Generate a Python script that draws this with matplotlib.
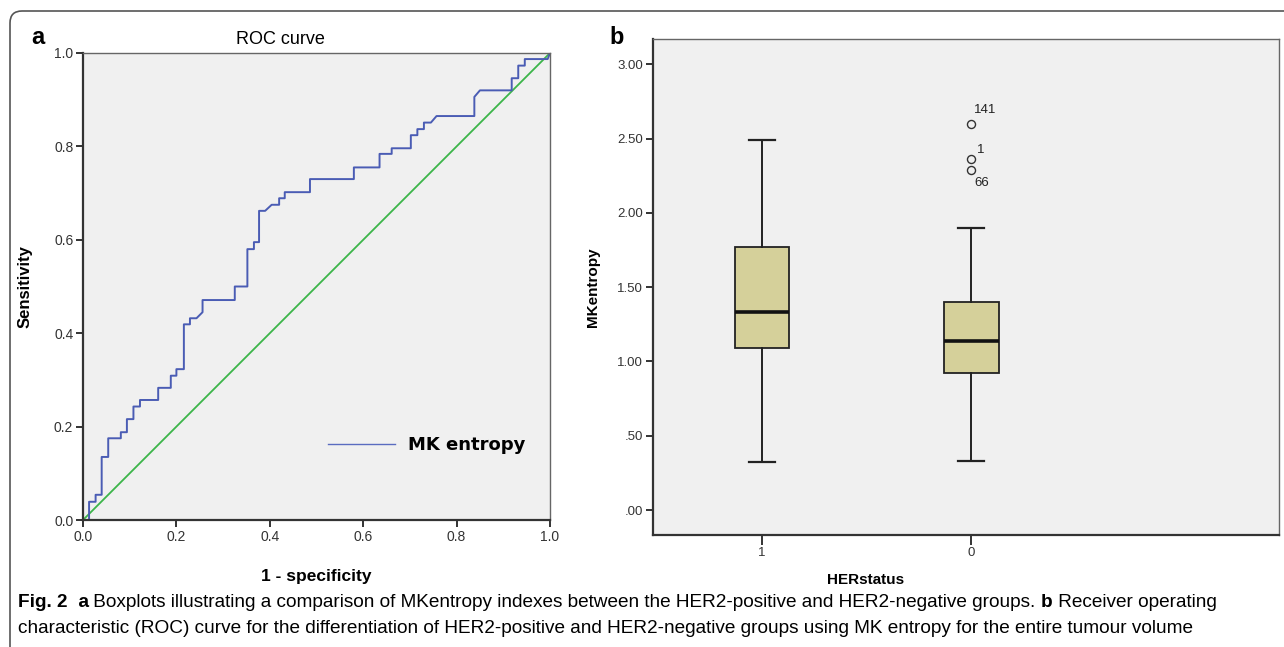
import matplotlib
matplotlib.use('Agg')
import matplotlib.pyplot as plt
from matplotlib.patches import FancyBboxPatch

# ROC curve corners: 1 - specificity / sensitivity
roc_fpr = [0.0, 0.013, 0.013, 0.027, 0.027, 0.040, 0.040, 0.054, 0.054, 0.081, 0.081,
           0.094, 0.094, 0.108, 0.108, 0.122, 0.122, 0.161, 0.161, 0.188, 0.188, 0.200,
           0.200, 0.216, 0.216, 0.229, 0.229, 0.243, 0.256, 0.256, 0.325, 0.325, 0.352,
           0.352, 0.366, 0.366, 0.377, 0.377, 0.390, 0.404, 0.420, 0.420, 0.432, 0.432,
           0.486, 0.486, 0.580, 0.580, 0.635, 0.635, 0.661, 0.661, 0.702, 0.702, 0.716,
           0.716, 0.730, 0.730, 0.745, 0.757, 0.838, 0.838, 0.850, 0.918, 0.918, 0.932,
           0.932, 0.946, 0.946, 0.995, 1.0]
roc_tpr = [0.0, 0.0, 0.039, 0.039, 0.054, 0.054, 0.135, 0.135, 0.175, 0.175, 0.188,
           0.188, 0.216, 0.216, 0.243, 0.243, 0.257, 0.257, 0.283, 0.283, 0.309, 0.309,
           0.323, 0.323, 0.419, 0.419, 0.432, 0.432, 0.445, 0.471, 0.471, 0.500, 0.500,
           0.580, 0.580, 0.595, 0.595, 0.662, 0.662, 0.675, 0.675, 0.689, 0.689, 0.702,
           0.702, 0.730, 0.730, 0.755, 0.755, 0.784, 0.784, 0.796, 0.796, 0.824, 0.824,
           0.837, 0.837, 0.851, 0.851, 0.865, 0.865, 0.906, 0.920, 0.920, 0.946, 0.946,
           0.973, 0.973, 0.987, 0.987, 1.0]
chance = [0.0, 1.0]
roc_ticks = [0.0, 0.2, 0.4, 0.6, 0.8, 1.0]

# boxplot summary for MKentropy by HER status
groups = ['1', '0']
whisker_low = [0.32, 0.33]
q1 = [1.09, 0.92]
medians = [1.33, 1.14]
q3 = [1.77, 1.40]
whisker_high = [2.49, 1.90]
outlier_values = [[], [2.60, 2.36, 2.29]]
outlier_ids = [[], ['141', '1', '66']]
box_ticks = [0.0, 0.5, 1.0, 1.5, 2.0, 2.5, 3.0]

plt.rcParams['font.family'] = ['Liberation Sans', 'DejaVu Sans']

fig = plt.figure(figsize=(12.84, 6.47), dpi=100)

# rounded frame around the figure (cut off at right and bottom)
frame = FancyBboxPatch((0.10, -0.5), 13.5, 6.86, boxstyle='round,pad=0,rounding_size=0.12',
                       transform=fig.dpi_scale_trans, facecolor='none', edgecolor='#555555',
                       linewidth=1.2)
fig.add_artist(frame)

face = '#f0f0f0'

def style_spines(ax, size):
    for side in ['left', 'bottom']:
        ax.spines[side].set_color('#333333')
        ax.spines[side].set_linewidth(1.6)
    for side in ['top', 'right']:
        ax.spines[side].set_color('#666666')
        ax.spines[side].set_linewidth(1.0)
    ax.tick_params(direction='out', length=5, width=1.4, color='#333333',
                   labelsize=size, labelcolor='#333333', pad=2)

# ---- panel a: ROC curve ----
ax1 = fig.add_axes([83 / 1284, 1 - 520 / 647, 467 / 1284, 467 / 647])
ax1.set_facecolor(face)
ax1.plot(chance, chance, color='#3cb54a', linewidth=1.3)
ax1.plot(roc_fpr, roc_tpr, color='#4a5cb4', linewidth=1.4, label='MK entropy')
ax1.set_xlim(0, 1)
ax1.set_ylim(0, 1)
ax1.set_xticks(roc_ticks)
ax1.set_yticks(roc_ticks)
ax1.set_xticklabels([f'{t:.1f}' for t in roc_ticks])
ax1.set_yticklabels([f'{t:.1f}' for t in roc_ticks])
style_spines(ax1, 10)
ax1.set_xlabel('1 - specificity', fontsize=12.5, fontweight='bold')
ax1.set_ylabel('Sensitivity', fontsize=12, fontweight='bold')
ax1.xaxis.set_label_coords(0.5, -0.105)
ax1.yaxis.set_label_coords(-0.107, 0.5)
ax1.text(0.422, 1.028, 'ROC curve', transform=ax1.transAxes, ha='center', va='center',
         fontsize=13)
handles, labels = ax1.get_legend_handles_labels()
leg = ax1.legend(handles[:1], labels[:1], loc='center left', bbox_to_anchor=(0.525, 0.16),
                 frameon=False, handlelength=3.7, handletextpad=0.7, borderpad=0,
                 borderaxespad=0, prop={'family': 'DejaVu Sans', 'weight': 'bold', 'size': 13})
for line in leg.get_lines():
    line.set_linewidth(1.0)
    line.set_color('#5a6cc0')

# ---- panel b: boxplot ----
ax2 = fig.add_axes([653 / 1284, 1 - 535 / 647, 626 / 1284, 496 / 647])
ax2.set_facecolor(face)
stats = []
for i, g in enumerate(groups):
    stats.append({'label': g, 'whislo': whisker_low[i], 'q1': q1[i], 'med': medians[i],
                  'q3': q3[i], 'whishi': whisker_high[i], 'fliers': outlier_values[i]})
positions = [1, 2]
bp = ax2.bxp(stats, positions=positions, widths=0.26, capwidths=0.125, patch_artist=True,
             boxprops=dict(facecolor='#d5d09a', edgecolor='#222222', linewidth=1.3),
             medianprops=dict(color='#111111', linewidth=2.6),
             whiskerprops=dict(color='#222222', linewidth=1.4),
             capprops=dict(color='#222222', linewidth=1.6),
             flierprops=dict(marker='o', markersize=5.8, markerfacecolor='none',
                             markeredgecolor='#333333', markeredgewidth=1.0))
label_offsets = {'141': (2, 10), '1': (4, 6.5), '66': (2, -9.5)}
for pos, vals, ids in zip(positions, outlier_values, outlier_ids):
    for v, lab in zip(vals, ids):
        ax2.annotate(lab, (pos, v), xytext=label_offsets[lab], textcoords='offset points',
                     ha='left', va='center', fontsize=9.5, color='#222222')
ax2.set_xlim(0.479, 3.47)
ax2.set_ylim(-0.168, 3.17)
ax2.set_yticks(box_ticks)
ax2.set_yticklabels([f'{t:.2f}'.lstrip('0') if t < 1 else f'{t:.2f}' for t in box_ticks])
ax2.set_xticks(positions)
ax2.set_xticklabels(groups)
style_spines(ax2, 9.5)
ax2.tick_params(axis='x', length=7)
ax2.set_xlabel('HERstatus', fontsize=11, fontweight='bold')
ax2.set_ylabel('MKentropy', fontsize=11, fontweight='bold')
ax2.xaxis.set_label_coords(0.340, -0.076)
ax2.yaxis.set_label_coords(-0.085, 0.5)

# panel letters
fig.text(38 / 1284, 1 - 38 / 647, 'a', fontsize=17, fontweight='bold', ha='center', va='center')
fig.text(617 / 1284, 1 - 37 / 647, 'b', fontsize=17, fontweight='bold', ha='center', va='center')

# caption with mixed bold pieces
cap_font = ['Liberation Sans', 'DejaVu Sans']
cap_size = 13.7
line1 = [('Fig. 2', 'bold'), ('  a', 'bold'),
         (' Boxplots illustrating a comparison of MKentropy indexes between the HER2-positive '
          'and HER2-negative groups. ', 'normal'),
         ('b', 'bold'), (' Receiver operating', 'normal')]
line2 = ('characteristic (ROC) curve for the differentiation of HER2-positive and HER2-negative '
         'groups using MK entropy for the entire tumour volume')
prev = fig.text(18 / 1284, 1 - 611 / 647, line1[0][0], fontsize=cap_size,
                fontweight=line1[0][1], family=cap_font, va='bottom')
for txt, w in line1[1:]:
    prev = fig.add_artist(matplotlib.text.Annotation(
        txt, xy=(1, 0), xycoords=prev, va='bottom', fontsize=cap_size, fontweight=w,
        family=cap_font))
fig.text(18 / 1284, 1 - 637 / 647, line2, fontsize=cap_size, family=cap_font, va='bottom')

fig.savefig('out.png', dpi=100)
